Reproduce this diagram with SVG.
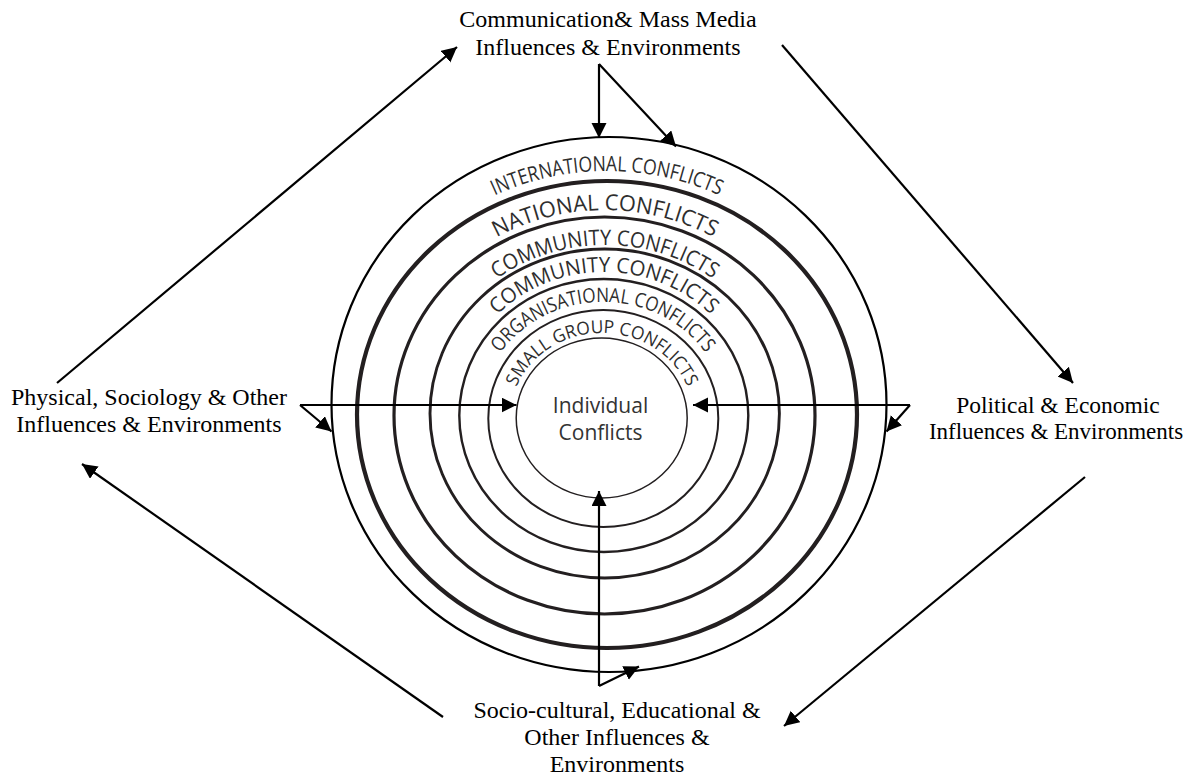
<svg xmlns="http://www.w3.org/2000/svg" width="1198" height="777" viewBox="0 0 1198 777">
<style>
.lbl{font-family:"Liberation Serif","Times New Roman",serif;font-size:24px;fill:#000;text-anchor:middle}
.ring{fill:none;stroke:#231f20}
.rt{font-family:"Open Sans","Noto Sans",sans-serif;fill:#2e2e2e;text-anchor:middle}
.ctr{font-family:"Open Sans","Noto Sans",sans-serif;font-size:21px;fill:#333;text-anchor:middle}
.con{fill:none;stroke:#000;stroke-width:2.2;marker-end:url(#ah)}
</style>
<defs>
<marker id="ah" markerUnits="userSpaceOnUse" markerWidth="16" markerHeight="16" refX="15" refY="7.5" orient="auto"><path d="M0,0 L15,7.5 L0,15 z" fill="#000"/></marker>
<path id="p1" d="M350,414 A257,243 0 0 1 864,414"/>
<path id="p2" d="M387,415 A218,205 0 0 1 823,415"/>
<path id="p3" d="M425,414 A180,169 0 0 1 785,414"/>
<path id="p4" d="M454,415 A150,143 0 0 1 754,415"/>
<path id="p5" d="M479,418 A124,116 0 0 1 727,418"/>
<path id="p6" d="M510,418 A92,85 0 0 1 694,418"/>
</defs>
<g id="rings">
<ellipse class="ring" cx="609" cy="404.5" rx="277.5" ry="267.5" style="stroke:#000;stroke-width:2.2"/>
<ellipse class="ring" cx="607" cy="414.5" rx="250" ry="233.5" style="stroke-width:4.2"/>
<ellipse class="ring" cx="604.5" cy="415.5" rx="210.5" ry="198.5" style="stroke-width:3.2"/>
<ellipse class="ring" cx="604.7" cy="413.5" rx="174.7" ry="164.5" style="stroke-width:2.9"/>
<ellipse class="ring" cx="603.8" cy="415.5" rx="144.5" ry="136.5" style="stroke-width:2.4"/>
<ellipse class="ring" cx="603.3" cy="418.5" rx="115" ry="108.5" style="stroke-width:2"/>
<ellipse class="ring" cx="601.7" cy="418" rx="85.5" ry="80" style="stroke-width:1.5"/>
</g>
<g id="ring-labels">
<text class="rt" font-size="21"><textPath href="#p1" startOffset="50%" textLength="232" lengthAdjust="spacingAndGlyphs">INTERNATIONAL CONFLICTS</textPath></text>
<text class="rt" font-size="22"><textPath href="#p2" startOffset="50%" textLength="226" lengthAdjust="spacingAndGlyphs">NATIONAL CONFLICTS</textPath></text>
<text class="rt" font-size="21.5"><textPath href="#p3" startOffset="50%" textLength="230" lengthAdjust="spacingAndGlyphs">COMMUNITY CONFLICTS</textPath></text>
<text class="rt" font-size="21"><textPath href="#p4" startOffset="50%" textLength="236" lengthAdjust="spacingAndGlyphs">COMMUNITY CONFLICTS</textPath></text>
<text class="rt" font-size="20"><textPath href="#p5" startOffset="50%" textLength="238" lengthAdjust="spacingAndGlyphs">ORGANISATIONAL CONFLICTS</textPath></text>
<text class="rt" font-size="18"><textPath href="#p6" startOffset="50%" textLength="214" lengthAdjust="spacingAndGlyphs">SMALL GROUP CONFLICTS</textPath></text>
</g>
<g id="individual">
<text class="ctr" x="600.5" y="413">Individual</text>
<text class="ctr" x="600.5" y="440">Conflicts</text>
</g>
<g id="top-label">
<text class="lbl" x="608" y="27">Communication&amp; Mass Media</text>
<text class="lbl" x="608" y="55">Influences &amp; Environments</text>
</g>
<g id="left-label">
<text class="lbl" x="149" y="405">Physical, Sociology &amp; Other</text>
<text class="lbl" x="149" y="432">Influences &amp; Environments</text>
</g>
<g id="right-label">
<text class="lbl" x="1058" y="413" style="font-size:23.5px">Political &amp; Economic</text>
<text class="lbl" x="1056" y="438.5" style="font-size:23px">Influences &amp; Environments</text>
</g>
<g id="bottom-label">
<text class="lbl" x="617" y="718">Socio-cultural, Educational &amp;</text>
<text class="lbl" x="617" y="745">Other Influences &amp;</text>
<text class="lbl" x="617" y="771.5">Environments</text>
</g>
<g id="connectors">
<path class="con" d="M599,64 V138"/>
<path class="con" d="M599,64 L676,146.5"/>
<path class="con" d="M300,405 H516.5"/>
<path class="con" d="M300,405 L331.5,431.5"/>
<path class="con" d="M910,405 H693"/>
<path class="con" d="M910,405 L886.5,431.5"/>
<path class="con" d="M599,686 V491"/>
<path class="con" d="M599,686 L639,666.5"/>
<path class="con" d="M57,383 L457,47"/>
<path class="con" d="M782,45 L1073,383"/>
<path class="con" d="M1085,477 L784,726"/>
<path class="con" d="M443,717 L82,464"/>
</g>
</svg>
